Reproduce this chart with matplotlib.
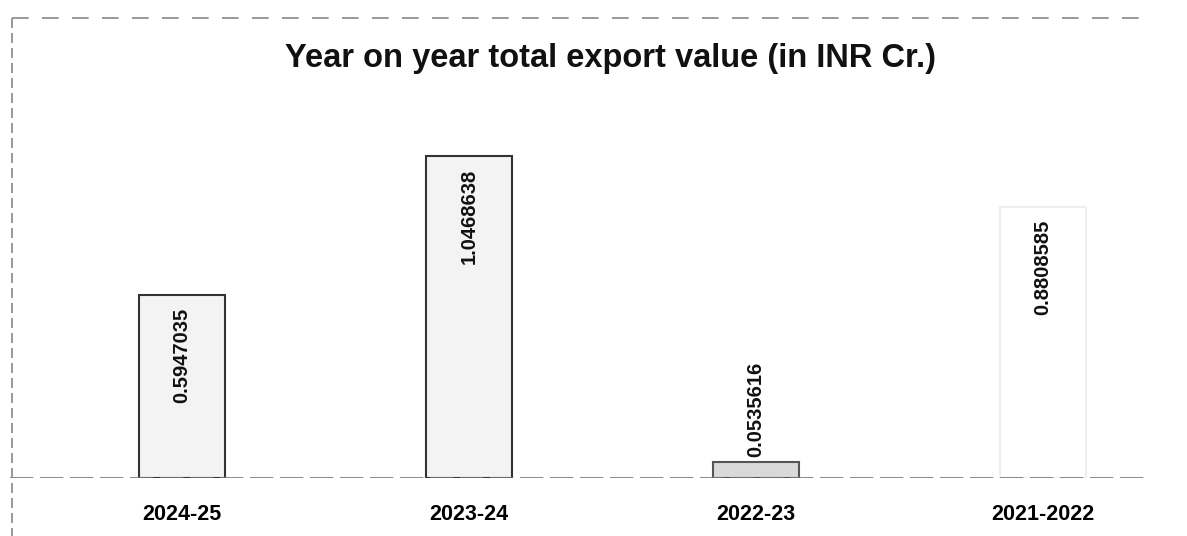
import matplotlib.pyplot as plt
from matplotlib.lines import Line2D

plt.rcParams['font.family'] = ['Liberation Sans', 'DejaVu Sans']

years = ["2024-25", "2023-24", "2022-23", "2021-2022"]
export_value = [0.5947035, 1.0468638, 0.0535616, 0.8808585]
value_labels = ["0.5947035", "1.0468638", "0.0535616", "0.8808585"]

fig = plt.figure(figsize=(11.87, 5.36), dpi=100)
ax = fig.add_axes([10 / 1187, 58 / 536, 1140 / 1187, 358 / 536])

faces = ["#f3f3f3", "#f3f3f3", "#d9d9d9", "#ffffff"]
edges = ["#333333", "#333333", "#555555", "#eeeeee"]
x = list(range(len(years)))
bars = ax.bar(x, export_value, width=0.30, color=faces, edgecolor=edges, linewidth=1.5)

for i, (b, v, lab) in enumerate(zip(bars, export_value, value_labels)):
    if v > 0.3:
        ax.text(b.get_x() + b.get_width() / 2, v - 0.04, lab, rotation=90,
                ha="center", va="top", fontsize=14.5, fontweight="bold", color="#111111")
    else:
        ax.text(b.get_x() + b.get_width() / 2, v + 0.015, lab, rotation=90,
                ha="center", va="bottom", fontsize=14.5, fontweight="bold", color="#111111")

ax.axhline(0, color="#777777", linewidth=1.2, linestyle=(0, (14, 4)))
ax.set_xlim(-0.599, 3.373)
ax.set_ylim(0, 1.164)
ax.set_xticks(x)
ax.set_xticklabels(years, fontsize=15.5, fontweight="bold")
ax.tick_params(axis="x", length=0, pad=19)
ax.set_yticks([])
for s in ax.spines.values():
    s.set_visible(False)

fig.text(611 / 1187, 1 - 58 / 536, "Year on year total export value (in INR Cr.)",
         ha="center", va="center", fontsize=23.5, fontweight="bold", color="#111111")

# scanned chart border (top and left)
fig.add_artist(Line2D([12 / 1187, 1150 / 1187], [1 - 18 / 536, 1 - 18 / 536],
                      color="#888888", linewidth=1.2, linestyle=(0, (10, 8))))
fig.add_artist(Line2D([12 / 1187, 12 / 1187], [1 - 18 / 536, 0],
                      color="#888888", linewidth=1.2, linestyle=(0, (6, 3))))

fig.savefig("out.png", dpi=100)
